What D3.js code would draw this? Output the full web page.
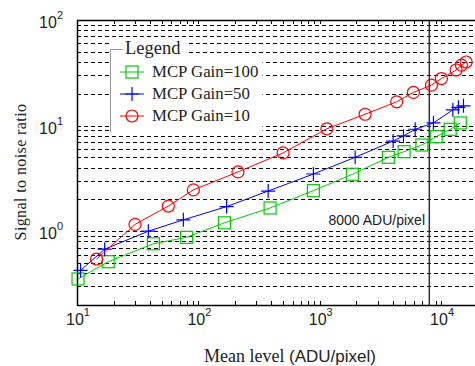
<!DOCTYPE html>
<html>
<head>
<meta charset="utf-8">
<script src="https://cdn.jsdelivr.net/npm/d3@7"></script>
<style>
  body { margin: 0; background: #fff; }
  svg { display: block; }
</style>
</head>
<body>
<svg id="chart"></svg>
<script>
// values
var gain100X = [10.2, 18.1, 42.6, 80, 164, 390, 887, 1860, 3680, 4960, 6950, 9120, 11900, 14400];
var gain100Y = [0.353, 0.514, 0.76, 0.875, 1.2, 1.66, 2.42, 3.46, 5.01, 5.66, 6.55, 7.85, 9.23, 10.6];

var gain50X = [10.7, 16.9, 38.7, 75.2, 171, 376, 887, 1960, 4030, 4900, 6120, 8650, 12500, 13900, 15300];
var gain50Y = [0.425, 0.675, 1.0, 1.28, 1.71, 2.4, 3.48, 5.01, 7.14, 7.98, 9.23, 10.6, 14.1, 14.9, 15.4];

var gain10X = [14.5, 30.1, 56.6, 91, 212, 499, 1146, 2366, 4305, 5916, 8337, 10070, 13300, 14720, 16100];
var gain10Y = [0.545, 1.16, 1.73, 2.46, 3.64, 5.51, 9.33, 12.8, 16.8, 20.6, 24.2, 27.9, 33.6, 37.4, 40.0];

var seriesNames = ['MCP Gain=100', 'MCP Gain=50', 'MCP Gain=10'];
var xTickPowers = [1, 2, 3, 4];
var yTickPowers = [0, 1, 2];
var markerLine = 8000;

function drawChart(svgname) {

   var width = 475,
       height = 366;

   var left = 77, top = 20, bottom = 305, right = 477.6;
   var serif = '"Liberation Serif", "Times New Roman", serif';
   var sans = 'Arial, "Liberation Sans", sans-serif';

   var svg = d3.select('#' + svgname)
       .attr('width', width)
       .attr('height', height);

   var x = d3.scaleLog().domain([10, 2e4]).range([left, right]);
   var y = d3.scaleLog().domain([0.2, 100]).range([bottom, top]);

   var series = [
      {name: seriesNames[0], xs: gain100X, ys: gain100Y, color: '#00cc00', marker: 'square'},
      {name: seriesNames[1], xs: gain50X, ys: gain50Y, color: '#0000ff', marker: 'plus'},
      {name: seriesNames[2], xs: gain10X, ys: gain10Y, color: '#ff0000', marker: 'circle'}
   ];

   // horizontal dashed grid (major + minor)
   var yGrid = y.ticks().filter(function(d) { return d > 0.2 && d < 100; });
   svg.append('g')
      .selectAll('line')
      .data(yGrid)
      .join('line')
      .attr('x1', left)
      .attr('x2', width)
      .attr('y1', function(d) { return Math.round(y(d)) + 0.5; })
      .attr('y2', function(d) { return Math.round(y(d)) + 0.5; })
      .attr('stroke', '#000')
      .attr('stroke-width', 1)
      .attr('stroke-dasharray', '4,3');

   // x ticks along bottom and top
   var xTicks = x.ticks();
   svg.append('g')
      .selectAll('line')
      .data(xTicks)
      .join('line')
      .attr('x1', function(d) { return Math.round(x(d)) + 0.5; })
      .attr('x2', function(d) { return Math.round(x(d)) + 0.5; })
      .attr('y1', bottom)
      .attr('y2', bottom - 4)
      .attr('stroke', '#000');
   svg.append('g')
      .selectAll('line')
      .data(xTicks)
      .join('line')
      .attr('x1', function(d) { return Math.round(x(d)) + 0.5; })
      .attr('x2', function(d) { return Math.round(x(d)) + 0.5; })
      .attr('y1', top)
      .attr('y2', top + 4)
      .attr('stroke', '#000');

   // 8000 ADU/pixel line
   svg.append('line')
      .attr('x1', x(markerLine))
      .attr('x2', x(markerLine))
      .attr('y1', top)
      .attr('y2', bottom)
      .attr('stroke', '#333')
      .attr('stroke-width', 1.5);

   svg.append('text')
      .attr('x', 425)
      .attr('y', 225)
      .attr('text-anchor', 'end')
      .style('font-family', sans)
      .style('font-size', '14px')
      .attr('fill', '#222')
      .text(markerLine + ' ADU/pixel');

   // axes frame
   svg.append('path')
      .attr('d', 'M' + width + ',' + (top + 0.5) + 'H' + (left + 0.5) + 'V' + (bottom + 0.5) + 'H' + width)
      .attr('fill', 'none')
      .attr('stroke', '#000')
      .attr('stroke-width', 1.5);

   // series
   var line = d3.line()
       .x(function(d) { return x(d[0]); })
       .y(function(d) { return y(d[1]); });

   function drawMarker(g, type, color) {
      if (type === 'square') {
         g.append('rect').attr('x', -6).attr('y', -6).attr('width', 12).attr('height', 12)
            .attr('fill', 'none').attr('stroke', color).attr('stroke-width', 1.2);
      } else if (type === 'plus') {
         g.append('path').attr('d', 'M-7,0H7M0,-7V7')
            .attr('stroke', color).attr('stroke-width', 1.2);
      } else {
         g.append('circle').attr('r', 6)
            .attr('fill', 'none').attr('stroke', color).attr('stroke-width', 1.2);
      }
   }

   series.forEach(function(s) {
      var pts = d3.zip(s.xs, s.ys);
      svg.append('path')
         .datum(pts)
         .attr('d', line)
         .attr('fill', 'none')
         .attr('stroke', s.color)
         .attr('stroke-width', 1);

      svg.append('g')
         .selectAll('g')
         .data(pts)
         .join('g')
         .attr('transform', function(d) { return 'translate(' + x(d[0]) + ',' + y(d[1]) + ')'; })
         .each(function() { drawMarker(d3.select(this), s.marker, s.color); });
   });

   // tick labels 10^n
   var xl = svg.append('g')
      .selectAll('text')
      .data(xTickPowers)
      .join('text')
      .attr('x', function(d) { return x(Math.pow(10, d)) + 1; })
      .attr('y', 325)
      .attr('text-anchor', 'middle')
      .style('font-family', sans)
      .style('font-size', '16px')
      .attr('fill', '#222');
   xl.append('tspan').text('10');
   xl.append('tspan').attr('dy', -9).style('font-size', '11px').text(function(d) { return d; });

   var yl = svg.append('g')
      .selectAll('text')
      .data(yTickPowers)
      .join('text')
      .attr('x', 63)
      .attr('y', function(d) { return y(Math.pow(10, d)) + 8; })
      .attr('text-anchor', 'end')
      .style('font-family', sans)
      .style('font-size', '16px')
      .attr('fill', '#222');
   yl.append('tspan').text('10');
   yl.append('tspan').attr('dy', -9).style('font-size', '11px').text(function(d) { return d; });

   // axis titles
   var xt = svg.append('text')
      .attr('x', 290)
      .attr('y', 362)
      .attr('text-anchor', 'middle')
      .attr('fill', '#222');
   xt.append('tspan').style('font-family', serif).style('font-size', '18px').text('Mean level ');
   xt.append('tspan').style('font-family', sans).style('font-size', '17px').text('(ADU/pixel)');

   svg.append('text')
      .attr('transform', 'translate(26,172) rotate(-90)')
      .attr('text-anchor', 'middle')
      .style('font-family', serif)
      .style('font-size', '16px')
      .style('letter-spacing', '0.4px')
      .attr('fill', '#222')
      .text('Signal to noise ratio');

   // legend panel
   var lg = svg.append('g');
   lg.append('rect')
      .attr('x', 110.5)
      .attr('y', 56)
      .attr('width', 152)
      .attr('height', 76)
      .attr('fill', '#fff');
   lg.append('rect')
      .attr('x', 110.5)
      .attr('y', 40)
      .attr('width', 76)
      .attr('height', 17)
      .attr('fill', '#fff');
   lg.append('path')
      .attr('d', 'M123,49.5H110.5V132')
      .attr('fill', 'none')
      .attr('stroke', '#999')
      .attr('stroke-width', 1);
   lg.append('text')
      .attr('x', 125)
      .attr('y', 54)
      .style('font-family', serif)
      .style('font-size', '18.5px')
      .attr('fill', '#222')
      .text('Legend');

   series.forEach(function(s, i) {
      var ly = 72 + i * 22;
      lg.append('line')
         .attr('x1', 120).attr('x2', 144)
         .attr('y1', ly).attr('y2', ly)
         .attr('stroke', s.color);
      drawMarker(lg.append('g').attr('transform', 'translate(132,' + ly + ')'), s.marker, s.color);
      lg.append('text')
         .attr('x', 152)
         .attr('y', ly + 5)
         .style('font-family', serif)
         .style('font-size', '16.8px')
         .attr('fill', '#222')
         .text(s.name);
   });
}

drawChart('chart');
</script>
</body>
</html>
